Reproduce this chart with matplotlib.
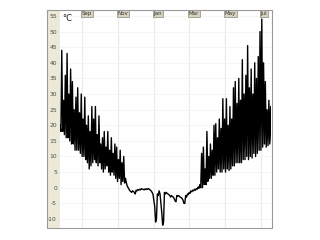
import matplotlib
matplotlib.use("Agg")
import matplotlib.pyplot as plt
import matplotlib.transforms as mtransforms
from matplotlib.patches import Rectangle

# ---- data ----
step_days = 3
highs = [20, 44, 28, 36, 43, 30, 38, 34, 25, 29, 32, 24, 30, 22, 29, 20, 23, 18, 26, 22,
         26, 17, 23, 14, 16, 18, 13, 18, 12, 16, 11, 14, 13, 9, 12, 8, 10, 3, 0.5, -0.5,
         -1.2, -1.0, -1.5, -0.8, -0.6, -0.5, -0.3, -0.5, -0.4, -0.3, -0.3, -0.8, -1.5, -4, -11, -2, -1, -5, -12, -1.5,
         -1.5, -2, -2.5, -2.5, -3, -4.2, -2.5, -2.5, -3, -3.5, -5, -2.5, -2, -1.5, -1, -0.8, -0.5, -0.3, 0.2, 1,
         11, 13, 6, 18, 10, 14, 12, 20, 20.5, 16, 22, 19, 28.5, 22, 28.5, 20, 26, 22, 32, 34,
         27, 35, 28, 41, 30, 36, 45.5, 32, 38, 30, 40, 35, 42, 50, 54, 40, 34, 25, 28, 26]
lows = [18, 18, 17, 16, 16, 15, 14, 14, 12, 12, 12, 11, 10, 10, 9, 8, 6, 7, 8, 9,
        8, 7, 8, 6, 5, 6, 7, 5, 4, 5, 4, 3, 2, 3, 1, 2, 1.5, 1.5, 0, -1,
        -1.5, -1.2, -2, -1, -0.8, -0.7, -0.5, -0.7, -0.6, -0.5, -0.5, -1, -2, -6, -10, -2.5, -2, -8, -11, -2,
        -1.8, -2.2, -3, -2.8, -3.5, -4.5, -2.8, -2.8, -3.2, -4, -5, -3, -2.2, -1.8, -1.3, -1, -0.8, -0.5, -0.2, 0,
        0, 1, 1, 2, 3, 3, 4, 4, 5, 6, 5, 5, 6, 5, 6, 5.5, 6, 7, 7, 8,
        8, 8, 8, 9, 9, 10, 9, 10, 9.5, 11, 10, 11, 12, 12, 13, 14, 13, 13.5, 14, 15]
month_labels = ["Sep", "Nov", "Jan", "Mar", "May", "Jul"]
month_days = [37, 98, 159, 218, 279, 340]
y_ticks = [55, 50, 45, 40, 35, 30, 25, 20, 15, 10, 5, 0, -5, -10]
unit = "°C"

# interleave highs and lows into one trace
t, v = [], []
for i, (h, l) in enumerate(zip(highs, lows)):
    d = i * step_days
    t += [d, d + step_days / 2]
    v += [h, l]

W, H = 320, 240
fig = plt.figure(figsize=(W / 100, H / 100), dpi=100)
fig.patch.set_facecolor("white")

# beige label strip and outer frame
strip = Rectangle((47 / W, 1 - 228 / H), 13 / W, 218 / H,
                  transform=fig.transFigure, facecolor="#ECE9D8",
                  edgecolor="none", zorder=-1)
fig.patches.append(strip)
frame = Rectangle((47 / W, 1 - 228 / H), 225 / W, 218 / H,
                  transform=fig.transFigure, facecolor="none",
                  edgecolor="#9A9A9A", linewidth=0.8, zorder=5)
fig.patches.append(frame)

ax = fig.add_axes([60 / W, 1 - 228 / H, 211 / W, 218 / H])
ax.set_zorder(2)
ax.set_facecolor("white")
ax.set_xlim(0, 357.6)
ax.set_ylim(-12.9, 56.9)

for d in month_days:
    ax.axvline(d, color="#EEEBE0", linewidth=0.8, zorder=1)
for y in y_ticks:
    ax.axhline(y, color="#F4F4F0", linewidth=0.6, zorder=1)

ax.plot(t, v, color="black", linewidth=1.0, zorder=3)

ax.set_xticks([])
ax.set_yticks(y_ticks)
ax.set_yticklabels([str(y) for y in y_ticks], fontsize=4.3, color="#4A4A4A")
ax.tick_params(axis="y", length=0, pad=2.2)
for s in ax.spines.values():
    s.set_visible(False)

trans = mtransforms.blended_transform_factory(ax.transData, ax.transAxes)
for lab, d in zip(month_labels, month_days):
    ax.text(d, 0.995, lab, transform=trans, ha="left", va="top", fontsize=4.0,
            color="#333333", zorder=6,
            bbox=dict(boxstyle="square,pad=0.12", facecolor="#D6D2BE",
                      edgecolor="#8A8A80", linewidth=0.5))

ax.text(0.01, 54.3, unit, fontsize=6, color="#222222", va="center", ha="left",
        transform=mtransforms.blended_transform_factory(ax.transAxes, ax.transData))

fig.savefig("out.png", dpi=100)
